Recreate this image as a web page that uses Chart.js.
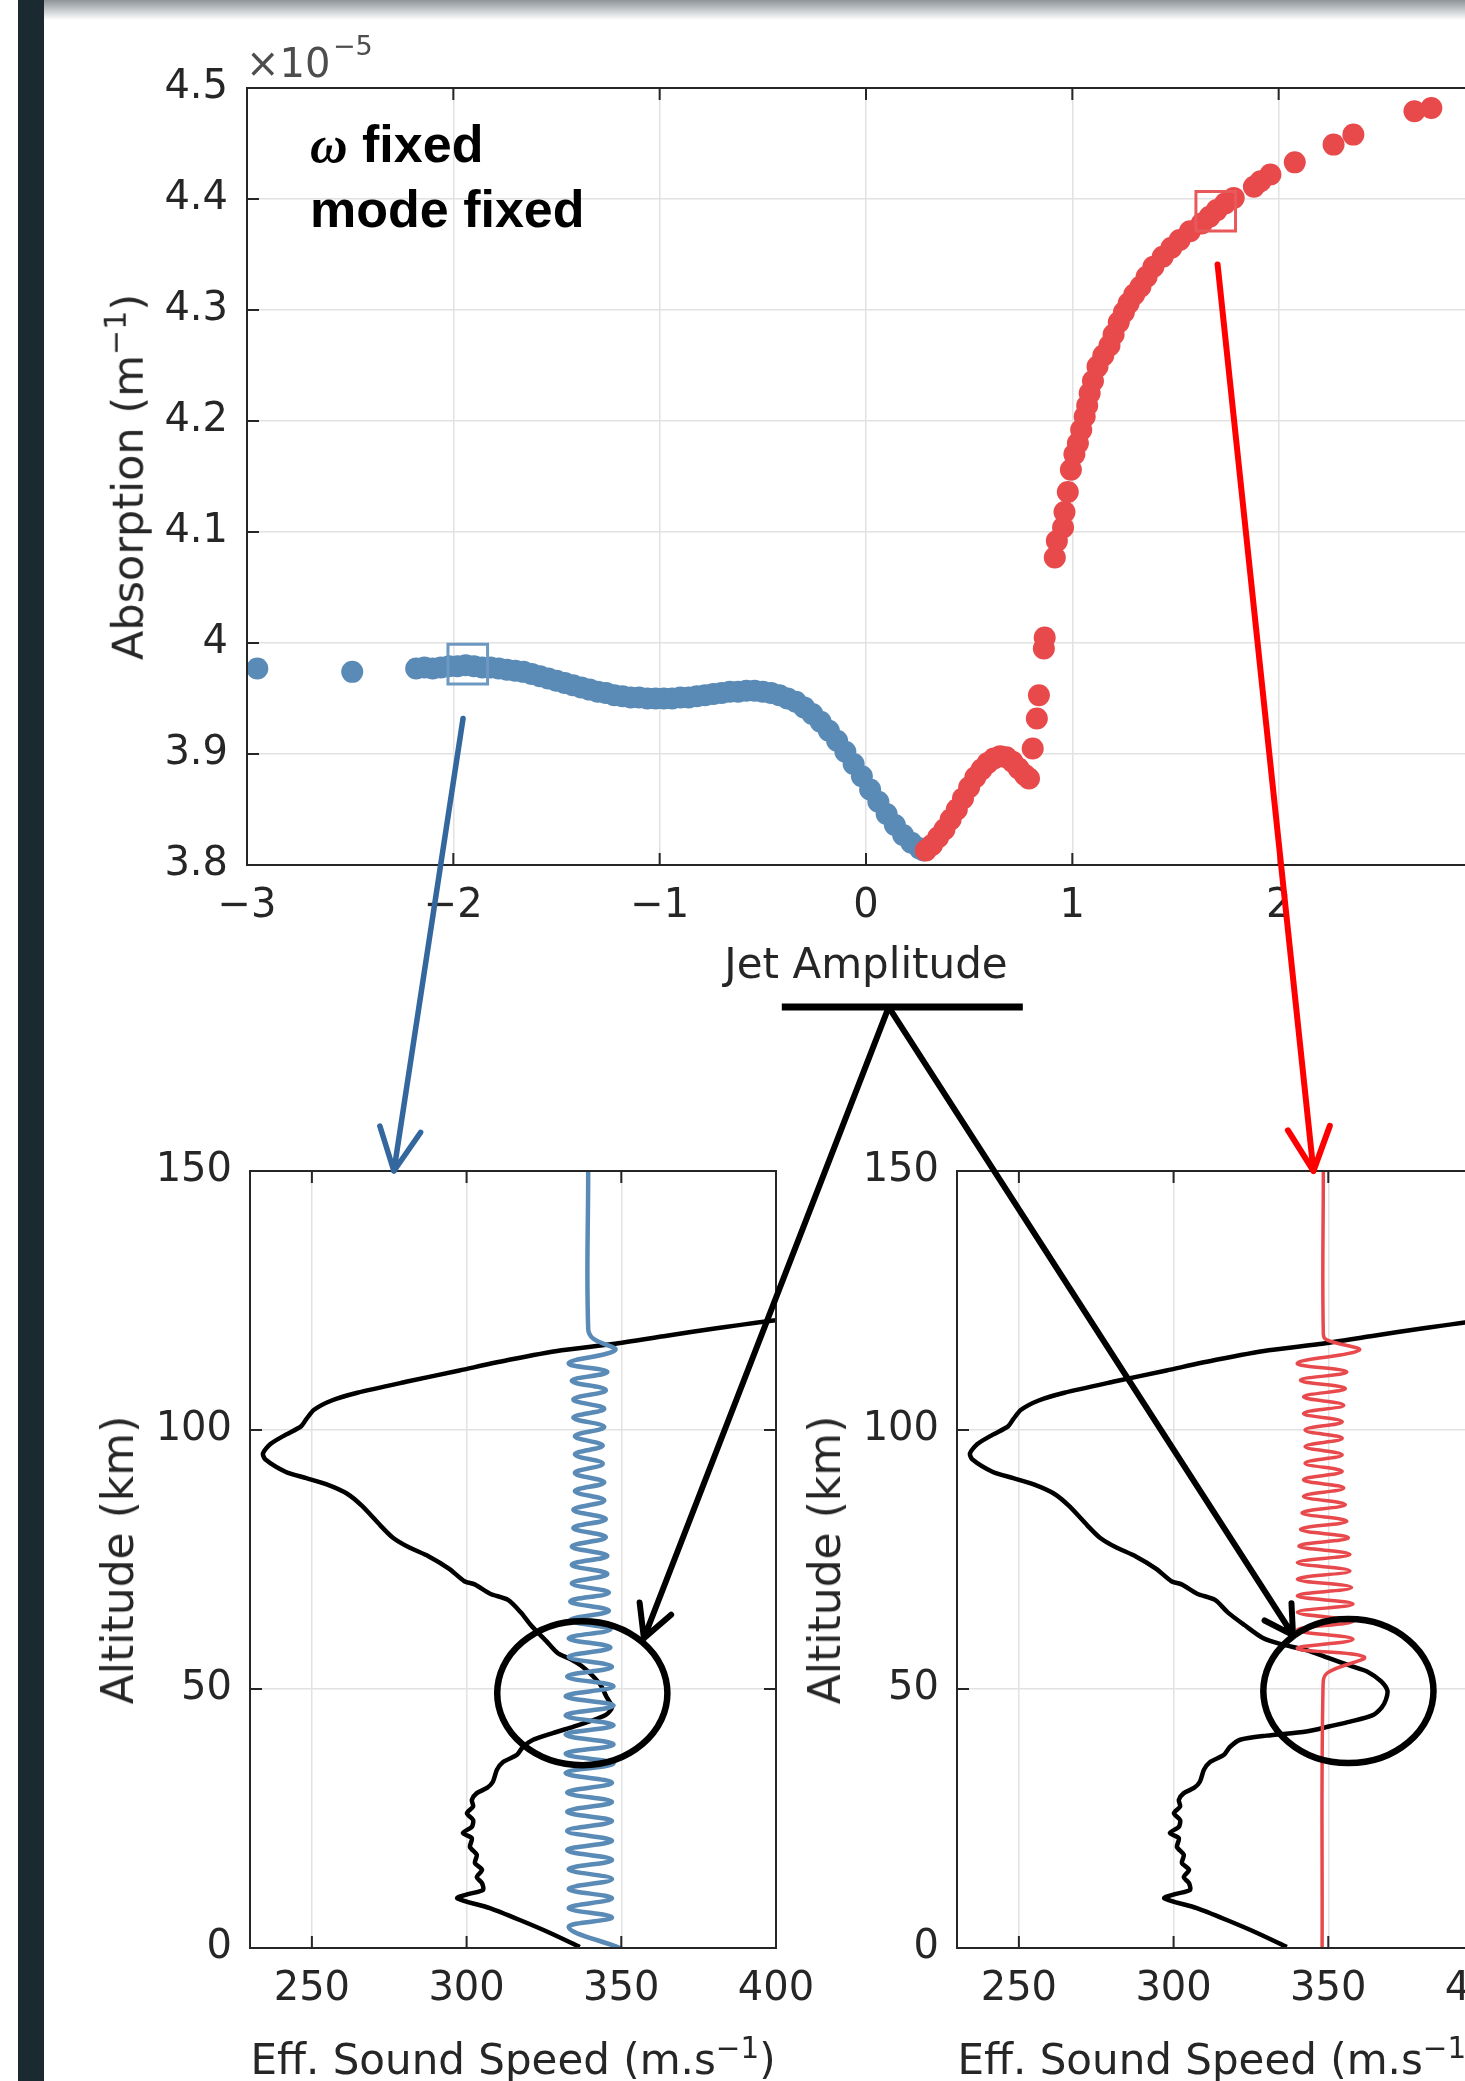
<!DOCTYPE html>
<html>
<head>
<meta charset="utf-8">
<title>Absorption vs jet amplitude</title>
<script src="https://cdn.jsdelivr.net/npm/chart.js@4.4.1/dist/chart.umd.min.js"></script>
<style>
  html, body { margin: 0; padding: 0; background: #fff; overflow: hidden; width: 1465px; height: 2081px; }
  #page { position: relative; width: 1600px; height: 2081px; overflow: hidden; background: #fff; }
  #bar { position: absolute; left: 18px; top: 0; width: 26px; height: 2081px; background: #1b2a30; }
  #shade { position: absolute; left: 44px; top: 0; right: 0; height: 20px; background: linear-gradient(#8e9498, rgba(255,255,255,0)); }
  canvas { position: absolute; }
  .t { position: absolute; font-family: 'DejaVu Sans', sans-serif; color: #262626; white-space: nowrap; line-height: 1; }
  .sup { font-size: 0.7em; vertical-align: 0.55em; }
</style>
</head>
<body>
<div id="page">
  <div id="bar"></div>
  <div id="shade"></div>
  <canvas id="topChart" width="1370" height="900" style="left:150px; top:40px; width:1370px; height:900px"></canvas>
  <canvas id="leftChart" width="740" height="953" style="left:100px; top:1128px; width:740px; height:953px"></canvas>
  <canvas id="rightChart" width="736" height="953" style="left:807px; top:1128px; width:736px; height:953px"></canvas>

  <div class="t" style="left:246px; top:43px; font-size:40px; color:#4d4d4d">×10</div>
  <div class="t" style="left:333px; top:32px; font-size:27px; color:#4d4d4d">−5</div>
  <div class="t" style="left:310px; top:112px; font: bold 52px/65px 'Liberation Sans', Arial, sans-serif; color:#000"><span style="font-family:'Liberation Serif', serif; font-style:italic">ω</span> fixed<br>mode fixed</div>

  <div class="t" style="left:125px; top:477px; font-size:43px; transform: translate(-50%, -50%) rotate(-90deg)">Absorption (m<span class="sup">−1</span>)</div>
  <div class="t" style="left:866px; top:943px; font-size:42px; transform: translateX(-50%)">Jet Amplitude</div>

  <div class="t" style="left:118px; top:1560px; font-size:44px; transform: translate(-50%, -50%) rotate(-90deg)">Altitude (km)</div>
  <div class="t" style="left:825px; top:1560px; font-size:44px; transform: translate(-50%, -50%) rotate(-90deg)">Altitude (km)</div>
  <div class="t" style="left:513px; top:2034px; font-size:42px; transform: translateX(-50%)">Eff. Sound Speed (m.s<span class="sup">−1</span>)</div>
  <div class="t" style="left:1220px; top:2034px; font-size:42px; transform: translateX(-50%)">Eff. Sound Speed (m.s<span class="sup">−1</span>)</div>

  <canvas id="overlay" width="1465" height="2081" style="left:0; top:0; width:1465px; height:2081px"></canvas>
</div>

<script>
// ---- top panel: absorption (x1e-5 m^-1) against jet amplitude ----
const blueJet = [-2.95, -2.49, -2.18, -2.14, -2.10, -2.06, -2.02, -1.98, -1.94, -1.90, -1.86, -1.82, -1.78, -1.74, -1.70, -1.66, -1.62, -1.58, -1.54, -1.50, -1.46, -1.42, -1.38, -1.34, -1.30, -1.26, -1.22, -1.18, -1.14, -1.10, -1.06, -1.02, -0.98, -0.94, -0.90, -0.86, -0.82, -0.78, -0.74, -0.70, -0.66, -0.62, -0.58, -0.54, -0.50, -0.46, -0.42, -0.38, -0.34, -0.30, -0.26, -0.22, -0.18, -0.14, -0.10, -0.06, -0.02, 0.02, 0.06, 0.10, 0.14, 0.18, 0.22, 0.26, 0.28];
const blueAbs = [3.977, 3.974, 3.977, 3.978, 3.977, 3.978, 3.979, 3.979, 3.980, 3.979, 3.978, 3.978, 3.977, 3.976, 3.975, 3.974, 3.972, 3.970, 3.968, 3.966, 3.964, 3.962, 3.960, 3.958, 3.956, 3.955, 3.953, 3.952, 3.951, 3.951, 3.950, 3.950, 3.950, 3.950, 3.951, 3.951, 3.952, 3.953, 3.954, 3.955, 3.956, 3.956, 3.957, 3.957, 3.956, 3.955, 3.953, 3.950, 3.947, 3.942, 3.936, 3.929, 3.921, 3.912, 3.902, 3.891, 3.880, 3.868, 3.857, 3.846, 3.836, 3.827, 3.820, 3.815, 3.813];

const redJet = [0.29, 0.32, 0.35, 0.38, 0.41, 0.44, 0.47, 0.50, 0.53, 0.56, 0.59, 0.62, 0.65, 0.68, 0.71, 0.74, 0.77, 0.79, 0.808, 0.828, 0.838, 0.862, 0.866, 0.915, 0.925, 0.955, 0.962, 0.978, 0.993, 1.01, 1.027, 1.043, 1.06, 1.072, 1.084, 1.10, 1.122, 1.15, 1.18, 1.20, 1.225, 1.25, 1.273, 1.30, 1.33, 1.36, 1.393, 1.438, 1.48, 1.52, 1.57, 1.627, 1.665, 1.70, 1.74, 1.782, 1.88, 1.912, 1.96, 2.078, 2.266, 2.362, 2.658, 2.74];
const redAbs = [3.813, 3.818, 3.825, 3.832, 3.841, 3.850, 3.860, 3.870, 3.879, 3.886, 3.892, 3.896, 3.898, 3.897, 3.893, 3.887, 3.881, 3.878, 3.905, 3.932, 3.953, 3.995, 4.005, 4.077, 4.092, 4.104, 4.118, 4.136, 4.156, 4.170, 4.180, 4.192, 4.204, 4.214, 4.225, 4.236, 4.249, 4.259, 4.268, 4.278, 4.289, 4.298, 4.306, 4.314, 4.321, 4.330, 4.339, 4.348, 4.356, 4.363, 4.371, 4.378, 4.384, 4.390, 4.396, 4.401, 4.411, 4.416, 4.422, 4.433, 4.449, 4.458, 4.479, 4.482];

// the two cases shown below (square markers)
const pickJet = [-1.93, 1.695];
const pickAbs = [3.981, 4.389];

const jetTicks = [-3, -2, -1, 0, 1, 2, 3];
const absTicks = [3.8, 3.9, 4, 4.1, 4.2, 4.3, 4.4, 4.5];

// ---- bottom panels: effective sound speed profiles ----
const profileAltL = [0.2, 2.9, 5.4, 7.7, 9.6, 10.4, 11.2, 12.5, 13.7, 15.1, 16.4, 18.0, 19.5, 21.2, 22.2, 23.4, 24.7, 26.0, 27.3, 28.6, 29.9, 30.9, 32.1, 34.4, 35.9, 37.3, 38.8, 40.2, 41.5, 42.7, 43.6, 45.0, 46.5, 48.5, 50.6, 52.5, 54.4, 55.8, 56.9, 59.3, 62.3, 64.8, 67.2, 68.4, 70.2, 70.8, 73.2, 75.6, 77.4, 79.2, 81.6, 85.3, 87.7, 89.5, 90.7, 91.9, 94.3, 95.5, 97.3, 99.1, 100.7, 102.1, 103.9, 105.7, 107.2, 109.4, 111.5, 113.6, 115.4, 116.6, 118.1, 119.6, 121.2, 123.0];
const profileSpdL = [336.6, 327.0, 317.2, 307.5, 297.0, 300.5, 305.3, 305.0, 303.3, 305.0, 302.7, 303.3, 301.1, 301.7, 298.8, 301.7, 302.1, 300.1, 302.1, 301.7, 303.3, 306.6, 308.5, 309.8, 311.8, 316.3, 318.2, 321.5, 327.9, 334.4, 339.0, 345.0, 347.0, 345.2, 343.5, 340.8, 337.3, 333.5, 329.5, 325.7, 320.8, 317.5, 313.4, 307.6, 302.6, 299.3, 294.4, 287.8, 281.2, 276.2, 272.1, 266.3, 261.4, 254.8, 248.2, 241.6, 235.0, 234.2, 236.6, 241.6, 246.5, 248.2, 250.7, 256.4, 264.7, 281.2, 297.7, 314.2, 330.7, 347.2, 363.7, 380.2, 400.0, 430.0];

const profileAltR = [0.2, 2.9, 5.4, 7.7, 9.6, 10.4, 11.2, 12.5, 13.7, 15.1, 16.4, 18.0, 19.5, 21.2, 22.2, 23.4, 24.7, 26.0, 27.3, 28.6, 29.9, 30.9, 32.1, 34.4, 35.9, 37.3, 38.8, 40.2, 41.0, 41.8, 42.8, 43.7, 44.9, 46.4, 47.9, 49.7, 51.5, 53.3, 54.5, 56.0, 57.5, 58.7, 59.9, 62.3, 64.8, 67.2, 68.4, 70.2, 70.8, 73.2, 75.6, 77.4, 79.2, 81.6, 85.3, 87.7, 89.5, 90.7, 91.9, 94.3, 95.5, 97.3, 99.1, 100.7, 102.1, 103.9, 105.7, 107.2, 109.4, 111.5, 113.6, 115.4, 116.6, 118.1, 119.6, 121.2, 123.0];
const profileSpdR = [336.6, 327.0, 317.2, 307.5, 297.0, 300.5, 305.3, 305.0, 303.3, 305.0, 302.7, 303.3, 301.1, 301.7, 298.8, 301.7, 302.1, 300.1, 302.1, 301.7, 303.3, 306.6, 308.5, 309.8, 311.8, 316.3, 318.2, 321.5, 330.0, 342.9, 350.5, 357.1, 364.2, 367.2, 368.6, 369.1, 367.0, 362.8, 357.1, 350.0, 342.9, 334.4, 328.7, 323.0, 317.5, 313.4, 307.6, 302.6, 299.3, 294.4, 287.8, 281.2, 276.2, 272.1, 266.3, 261.4, 254.8, 248.2, 241.6, 235.0, 234.2, 236.6, 241.6, 246.5, 248.2, 250.7, 256.4, 264.7, 281.2, 297.7, 314.2, 330.7, 347.2, 363.7, 380.2, 400.0, 430.0];

// mode shapes (turning points of the oscillation)
const blueWaveAlt = [0, 4.0, 5.9, 7.7, 9.6, 11.4, 13.3, 15.2, 17.0, 18.9, 20.7, 22.6, 24.5, 26.3, 28.2, 30.0, 31.9, 33.8, 35.6, 37.5, 39.3, 41.2, 43.0, 44.9, 46.8, 48.6, 50.5, 52.4, 54.3, 56.2, 58.0, 59.8, 61.5, 63.3, 65.1, 66.9, 68.6, 70.4, 72.2, 74.0, 75.7, 77.5, 79.3, 81.1, 82.8, 84.6, 86.4, 88.2, 89.9, 91.7, 93.5, 95.3, 97.0, 98.8, 100.6, 102.4, 104.1, 105.9, 107.7, 109.5, 111.2, 112.9, 115.4, 117.6, 119.5, 150];
const blueWaveSpd = [349.6, 333, 347, 333, 347, 333, 347, 333, 347, 332.5, 347, 332.5, 347, 332.5, 347, 332.5, 347, 332, 347.5, 332, 347.5, 332, 347.5, 332, 347.5, 332, 347.5, 332.5, 347, 333, 346.5, 333, 346.5, 333.5, 346, 333.5, 346, 334, 345.5, 334, 345.5, 334, 345, 334.5, 345, 334.5, 344.5, 335, 344.5, 335, 344, 335, 344, 335, 344.5, 334.5, 344.5, 334.5, 345, 334, 345.5, 333, 348, 341, 339.3, 339.3];

const redWaveAlt = [0, 50.6, 53.1, 56.2, 57.8, 59.6, 61.4, 63.1, 64.8, 66.4, 68.0, 69.6, 71.2, 72.8, 74.4, 76.0, 77.6, 79.2, 80.8, 82.4, 84.0, 85.6, 87.2, 88.8, 90.4, 92.0, 93.6, 95.2, 96.8, 98.4, 100.0, 101.6, 103.2, 104.8, 106.4, 108.0, 109.6, 111.2, 112.9, 115.4, 117.4, 118.5, 150];
const redWaveSpd = [348.0, 348.3, 349.7, 361.6, 340, 358, 340, 358, 340, 358, 340, 357.5, 340, 357, 340, 357, 340.5, 356.5, 341, 356, 341.5, 355.5, 342, 355, 342, 354.5, 342.5, 354.5, 342.5, 354.5, 342.5, 354.5, 342, 355, 342, 355.5, 341, 356, 340, 360, 349.5, 348.4, 348.4];

const speedTicks = [250, 300, 350, 400];
const altTicks = [0, 50, 100, 150];

const BLUE = '#5a8ab6';
const RED = '#e84a4b';
const INK = '#262626';

Chart.defaults.font.family = "'DejaVu Sans', sans-serif";

function pts(xs, ys) {
  return xs.map((x, i) => ({ x: x, y: ys[i] }));
}

function minusFmt(v) {
  return v < 0 ? '\u2212' + Math.abs(v) : String(v);
}

// linear axis whose thickness is fixed so the plot box lands where we want it
function axis(pos, min, max, tickValues, size, pad, fmt) {
  return {
    type: 'linear',
    position: pos,
    min: min,
    max: max,
    afterBuildTicks: s => { s.ticks = tickValues.map(v => ({ value: v })); },
    afterFit: s => { if (s.isHorizontal()) s.height = size; else s.width = size; },
    grid: { color: '#e2e2e2', lineWidth: 1.5, drawTicks: false },
    border: { display: false },
    ticks: { color: INK, font: { size: 40 }, padding: pad, autoSkip: false, maxRotation: 0, callback: fmt }
  };
}

// matlab style box with inward ticks on all four sides
const boxPlugin = {
  id: 'box',
  afterDatasetsDraw(chart) {
    const ctx = chart.ctx;
    const a = chart.chartArea;
    const sx = chart.scales.x, sy = chart.scales.y;
    const L = 12;
    ctx.save();
    ctx.strokeStyle = INK;
    ctx.lineWidth = 2;
    ctx.strokeRect(a.left, a.top, a.right - a.left, a.bottom - a.top);
    ctx.beginPath();
    sx.ticks.forEach(t => {
      const p = sx.getPixelForValue(t.value);
      ctx.moveTo(p, a.bottom); ctx.lineTo(p, a.bottom - L);
      ctx.moveTo(p, a.top); ctx.lineTo(p, a.top + L);
    });
    sy.ticks.forEach(t => {
      const p = sy.getPixelForValue(t.value);
      ctx.moveTo(a.left, p); ctx.lineTo(a.left + L, p);
      ctx.moveTo(a.right, p); ctx.lineTo(a.right - L, p);
    });
    ctx.stroke();
    ctx.restore();
  }
};

const baseOpts = {
  responsive: false,
  maintainAspectRatio: false,
  animation: false,
  events: [],
  plugins: { legend: { display: false }, tooltip: { enabled: false } }
};

let topCanvas = document.getElementById('topChart');
let leftCanvas = document.getElementById('leftChart');
let rightCanvas = document.getElementById('rightChart');

// plot box: left 247, top 88, right 1485, bottom 865 (page pixels)
let topChart = new Chart(topCanvas, {
  type: 'scatter',
  data: {
    datasets: [
      {
        data: pts(pickJet, pickAbs),
        pointStyle: 'rect',
        pointRadius: 28,
        pointBorderWidth: 3,
        pointBorderColor: ['#6c98c2', '#e9585b'],
        pointBackgroundColor: 'rgba(0,0,0,0)',
        clip: false
      },
      {
        data: pts(redJet, redAbs),
        pointRadius: 11,
        pointBorderWidth: 0,
        pointBackgroundColor: RED,
        clip: false
      },
      {
        data: pts(blueJet, blueAbs),
        pointRadius: 11,
        pointBorderWidth: 0,
        pointBackgroundColor: BLUE,
        clip: false
      }
    ]
  },
  options: Object.assign({}, baseOpts, {
    layout: { autoPadding: false, padding: { left: 0, top: 48, right: 35, bottom: 0 } },
    scales: {
      x: axis('bottom', -3, 3, jetTicks, 75, 18, minusFmt),
      y: axis('left', 3.8, 4.5, absTicks, 97, 19, v => String(v))
    }
  }),
  plugins: [boxPlugin]
});

// plot boxes: top 1171, bottom 1948, width 526
function profileChart(canvas, waveAlt, waveSpd, waveColor, waveWidth, profAlt, profSpd, padRight) {
  return new Chart(canvas, {
    type: 'scatter',
    data: {
      datasets: [
        {
          data: pts(waveSpd, waveAlt),
          showLine: true,
          borderColor: waveColor,
          borderWidth: waveWidth,
          tension: 0.4,
          pointRadius: 0,
          clip: 0
        },
        {
          data: pts(profSpd, profAlt),
          showLine: true,
          borderColor: '#000',
          borderWidth: 4.5,
          tension: 0.25,
          pointRadius: 0,
          clip: 0
        }
      ]
    },
    options: Object.assign({}, baseOpts, {
      layout: { autoPadding: false, padding: { left: 0, top: 43, right: padRight, bottom: 0 } },
      scales: {
        x: axis('bottom', 230, 400, speedTicks, 133, 18, v => String(v)),
        y: axis('left', 0, 150, altTicks, 150, 18, v => String(v))
      }
    }),
    plugins: [boxPlugin]
  });
}

let leftChart = profileChart(leftCanvas, blueWaveAlt, blueWaveSpd, BLUE, 4.5, profileAltL, profileSpdL, 64);
let rightChart = profileChart(rightCanvas, redWaveAlt, redWaveSpd, '#e8494c', 3.5, profileAltR, profileSpdR, 60);

// ---- hand-drawn style annotations, placed through the chart scales ----
let ov = document.getElementById('overlay').getContext('2d');

function at(chart, canvas, x, y) {
  return [canvas.offsetLeft + chart.scales.x.getPixelForValue(x),
          canvas.offsetTop + chart.scales.y.getPixelForValue(y)];
}

function arrow(a, b, color, width, head, spread) {
  ov.save();
  ov.strokeStyle = color;
  ov.lineWidth = width;
  ov.lineCap = 'round';
  ov.lineJoin = 'round';
  ov.beginPath();
  ov.moveTo(a[0], a[1]);
  ov.lineTo(b[0], b[1]);
  const ang = Math.atan2(b[1] - a[1], b[0] - a[0]);
  for (const s of [-1, 1]) {
    const t = ang + Math.PI + s * spread;
    ov.moveTo(b[0], b[1]);
    ov.lineTo(b[0] + head * Math.cos(t), b[1] + head * Math.sin(t));
  }
  ov.stroke();
  ov.restore();
}

function ring(chart, canvas, c, half) {
  const p = at(chart, canvas, c[0], c[1]);
  const ex = at(chart, canvas, c[0] + half[0], c[1]);
  const ey = at(chart, canvas, c[0], c[1] + half[1]);
  ov.save();
  ov.strokeStyle = '#000';
  ov.lineWidth = 6.5;
  ov.beginPath();
  ov.ellipse(p[0], p[1], Math.abs(ex[0] - p[0]), Math.abs(ey[1] - p[1]), 0, 0, Math.PI * 2);
  ov.stroke();
  ov.restore();
}

const spread = 26 * Math.PI / 180;

// blue case -> left profile
arrow(at(topChart, topCanvas, -1.953, 3.932), at(leftChart, leftCanvas, 276.5, 150), '#33679e', 5.5, 47, spread);
// red case -> right profile
arrow(at(topChart, topCanvas, 1.704, 4.341), at(rightChart, rightCanvas, 345.2, 150), '#ff0000', 6, 48, spread);

// underline of the x label, and the two black arrows to the jet region
let u0 = at(topChart, topCanvas, -0.408, 3.672);
let u1 = at(topChart, topCanvas, 0.76, 3.672);
ov.save();
ov.strokeStyle = '#000';
ov.lineWidth = 7;
ov.beginPath();
ov.moveTo(u0[0], u0[1]);
ov.lineTo(u1[0], u1[1]);
ov.stroke();
ov.restore();

let apex = at(topChart, topCanvas, 0.11, 3.672);
arrow(apex, at(leftChart, leftCanvas, 357.3, 59.8), '#000', 6, 36, 28 * Math.PI / 180);
arrow(apex, at(rightChart, rightCanvas, 338.6, 60.4), '#000', 6, 32, 30 * Math.PI / 180);

ring(leftChart, leftCanvas, [337.4, 49.2], [27.5, 13.9]);
ring(rightChart, rightCanvas, [356.5, 49.6], [27.5, 13.9]);
</script>
</body>
</html>
